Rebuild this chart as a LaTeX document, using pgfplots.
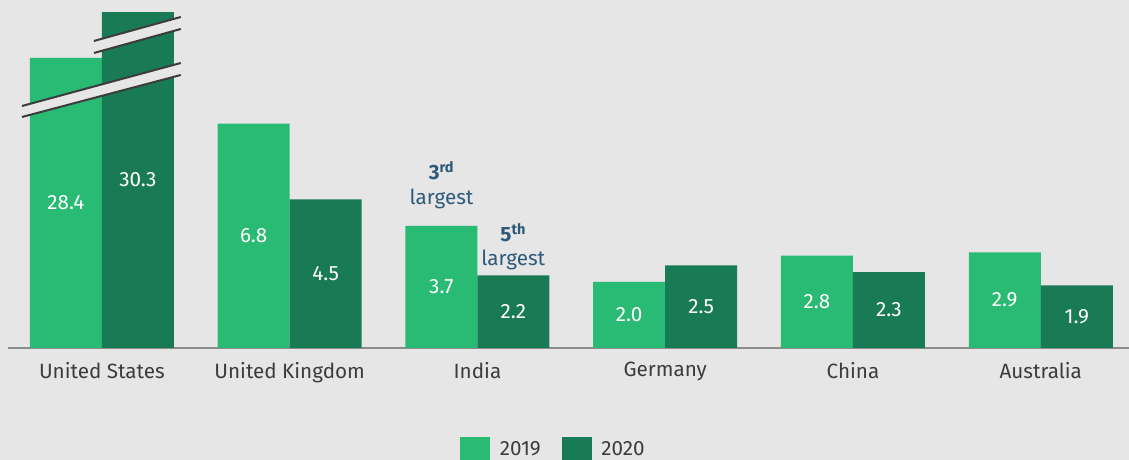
\documentclass[border=0pt]{standalone}
\usepackage{pgfplots}
\usepackage{pgfplotstable}
\pgfplotsset{compat=1.18}
\usepackage{fontspec}
\setmainfont{Fira Sans}

\definecolor{bg}{HTML}{E6E6E6}
\definecolor{lightg}{HTML}{29BA74}
\definecolor{darkg}{HTML}{197A56}
\definecolor{txt}{HTML}{3C3C3C}
\definecolor{ann}{HTML}{2E5A7A}

% x = group, h = bar height as drawn (US bars are broken), v = value shown
\pgfplotstableread{
x h v
0 8.79 28.4
1 6.8 6.8
2 3.7 3.7
3 2.0 2.0
4 2.8 2.8
5 2.9 2.9
}\yrA
\pgfplotstableread{
x h v
0 10.18 30.3
1 4.5 4.5
2 2.2 2.2
3 2.5 2.5
4 2.3 2.3
5 1.9 1.9
}\yrB

\begin{document}
\begin{tikzpicture}
\path[use as bounding box, fill=bg] (-6pt,-84pt) rectangle (840.75pt,261pt);
\begin{axis}[
    at={(0,0)}, anchor=south west,
    scale only axis,
    width=840.75pt, height=261pt,
    xmin=-0.5, xmax=5.47,
    ymin=0, ymax=10.545,
    ybar=0pt, bar width=54pt,
    axis x line*=bottom,
    axis y line=none,
    axis line style={draw=black!45, line width=0.9pt, -},
    xtick={0,...,5},
    xticklabels={United States, United Kingdom, India, Germany, China, Australia},
    major tick length=0pt,
    xticklabel style={font=\fontsize{15.5pt}{18pt}\selectfont, text=txt, yshift=-7pt},
    point meta=explicit symbolic,
    nodes near coords,
    visualization depends on={rawy \as \rawh},
    every node near coord/.append style={font=\fontsize{15.5pt}{18pt}\selectfont,
        text=white, anchor=center, shift={(axis direction cs:0,-\rawh/2)}},
    legend columns=2,
    legend style={at={(0.487,0)}, anchor=center, yshift=-76pt, draw=none, fill=none,
        font=\fontsize{15.5pt}{18pt}\selectfont, text=txt,
        /tikz/every odd column/.append style={column sep=5pt},
        /tikz/every even column/.append style={column sep=14pt}},
]
\addplot[fill=lightg, draw=none,
    legend image code/.code={\fill[lightg] (0pt,-9pt) rectangle (22.5pt,9pt);}]
    table[x=x, y=h, meta=v] {\yrA};
\addplot[fill=darkg, draw=none,
    legend image code/.code={\fill[darkg] (0pt,-9pt) rectangle (22.5pt,9pt);}]
    table[x=x, y=h, meta=v] {\yrB};
\legend{2019, 2020}

% axis break marks on the US bars
\fill[bg] (axis cs:-0.4255,7.333) -- (axis cs:0.4202,8.636) -- (axis cs:0.4202,8.273) -- (axis cs:-0.4255,7.0) -- cycle;
\draw[txt, line width=1.5pt] (axis cs:-0.4255,7.333) -- (axis cs:0.4202,8.636);
\draw[txt, line width=1.5pt] (axis cs:-0.4255,7.0) -- (axis cs:0.4202,8.273);
\fill[bg] (axis cs:-0.0426,9.303) -- (axis cs:0.4202,10.03) -- (axis cs:0.4202,9.667) -- (axis cs:-0.0426,8.939) -- cycle;
\draw[txt, line width=1.5pt] (axis cs:-0.0426,9.303) -- (axis cs:0.4202,10.03);
\draw[txt, line width=1.5pt] (axis cs:-0.0426,8.939) -- (axis cs:0.4202,9.667);

% rank notes above India
\node[text=ann, align=center, anchor=south, yshift=12.5pt, inner sep=0pt,
    font=\fontsize{15.5pt}{19pt}\selectfont] at (axis cs:1.809,3.7)
    {\textbf{3\textsuperscript{rd}}\\largest};
\node[text=ann, align=center, anchor=south, yshift=4pt, inner sep=0pt,
    font=\fontsize{15.5pt}{18pt}\selectfont] at (axis cs:2.191,2.2)
    {\textbf{5\textsuperscript{th}}\\largest};
\end{axis}
\end{tikzpicture}
\end{document}
